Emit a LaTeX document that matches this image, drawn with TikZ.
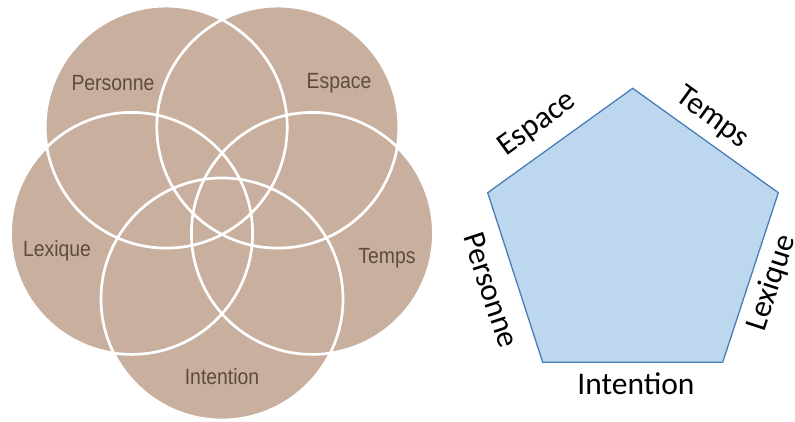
\documentclass[tikz,border=0pt]{standalone}
\usepackage{fontspec}
\setmainfont{Liberation Sans}
\newfontfamily\narrowsans[FakeStretch=0.88]{Liberation Sans}
\newfontfamily\calib{Carlito}
\definecolor{venn}{HTML}{C8AF9E}
\definecolor{venntext}{HTML}{5E4B3E}
\definecolor{pentfill}{HTML}{BDD7EE}
\definecolor{pentline}{HTML}{4A7EBB}
\begin{document}
\begin{tikzpicture}[x=1pt,y=-1pt,
  vfill/.style={fill=venn,draw=none},
  vline/.style={draw=white,line width=2.7pt},
  vlabel/.style={text=venntext,font=\narrowsans\fontsize{22}{23}\selectfont,inner sep=0pt},
  plabel/.style={text=black,font=\calib\fontsize{31.5}{32}\selectfont,inner sep=0pt},
  pent/.style={fill=pentfill,draw=pentline,line width=1.3pt,line join=miter}]
\useasboundingbox (0,0) rectangle (795,421);
% circle centres
\coordinate (cInt) at (222,299);
\coordinate (cLex) at (131.6,233.4);
\coordinate (cPer) at (166.2,127.1);
\coordinate (cEsp) at (277.8,127.1);
\coordinate (cTem) at (312.4,233.4);
\foreach \c in {cInt,cLex,cPer,cEsp,cTem}
  \path[vfill] (\c) circle[radius=121pt];
\foreach \c in {cInt,cLex,cPer,cEsp,cTem}
  \path[vline] (\c) circle[radius=121pt];
\node[vlabel] (lPer) at (113,83) {Personne};
\node[vlabel] (lEsp) at (339,83) {Espace};
\node[vlabel] (lLex) at (57,251) {Lexique};
\node[vlabel] (lTem) at (387,258) {Temps};
\node[vlabel] (lInt) at (222,377) {Intention};
% pentagon
\coordinate (pT) at (632.7,88.3);
\coordinate (pUR) at (778.3,192.7);
\coordinate (pLR) at (722.7,362.3);
\coordinate (pLL) at (542.7,362.3);
\coordinate (pUL) at (487.7,192.7);
\path[pent] (pT) -- (pUR) -- (pLR) -- (pLL) -- (pUL) -- cycle;
\node[plabel,rotate=36] (tEsp) at (537.5,124) {Espace};
\node[plabel,rotate=-36] (tTem) at (712,118) {Temps};
\node[plabel,rotate=-72] (tPer) at (491,290) {Personne};
\node[plabel,rotate=72] (tLex) at (772,283) {Lexique};
\node[plabel] (tInt) at (636,384) {Intention};
\end{tikzpicture}
\end{document}
